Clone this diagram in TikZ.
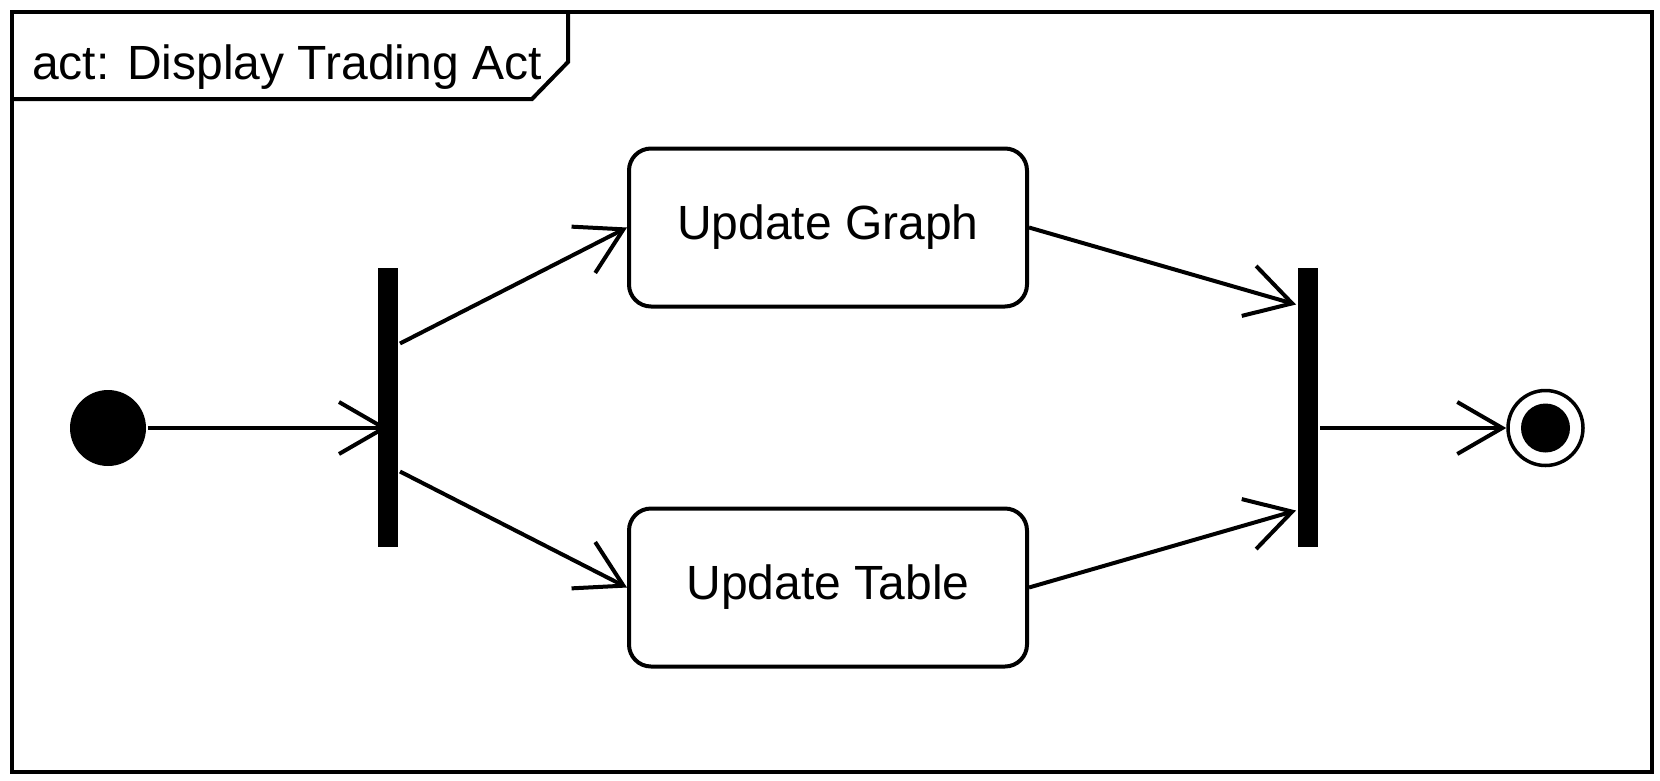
\documentclass[tikz,border=0pt]{standalone}
\usepackage{fontspec}
\setmainfont{Liberation Sans}
\usetikzlibrary{arrows.meta}

\begin{document}
\begin{tikzpicture}[x=1pt, y=-1pt, line width=4pt,
    flow/.style={-{Straight Barb[length=45pt, width=52pt]}},
    action/.style={draw, rounded corners=22pt, minimum width=398pt, minimum height=158pt,
        inner sep=0pt, font=\fontsize{48}{58}\selectfont},
    bar/.style={fill, inner sep=0pt, minimum width=20pt, minimum height=279pt}]
\useasboundingbox (0,0) rectangle (1660,780);

% frame and name tab
\draw (12,12) rectangle (1652,772);
\draw (12,99) -- (532,99) -- (568,62) -- (568,12);
\node[anchor=base west, inner sep=0pt, font=\fontsize{48}{58}\selectfont] (title) at (30,79) {act: Display Trading Act};

% nodes
\node[circle, fill, inner sep=0pt, minimum size=76pt] (init) at (108,428) {};
\node[bar] (fork) at (388,407.5) {};
\node[action] (graph) at (828,227.5) {Update Graph};
\node[action] (table) at (828,587.5) {Update Table};
\node[bar] (join) at (1308,407.5) {};
\node[circle, draw, line width=3.5pt, inner sep=0pt, minimum size=75pt] (final) at (1545.5,428) {};
\fill (final.center) circle (24.5);

% flows
\draw[flow] (init) -- (init -| fork);
\draw[flow] ([yshift=64pt]fork.east) -- (graph.west);
\draw[flow] ([yshift=-64pt]fork.east) -- (table.west);
\draw[flow] (graph.east) -- ([yshift=103pt]join.west);
\draw[flow] (table.east) -- ([yshift=-103pt]join.west);
\draw[flow] (join.east |- final) -- (final);
\end{tikzpicture}
\end{document}
